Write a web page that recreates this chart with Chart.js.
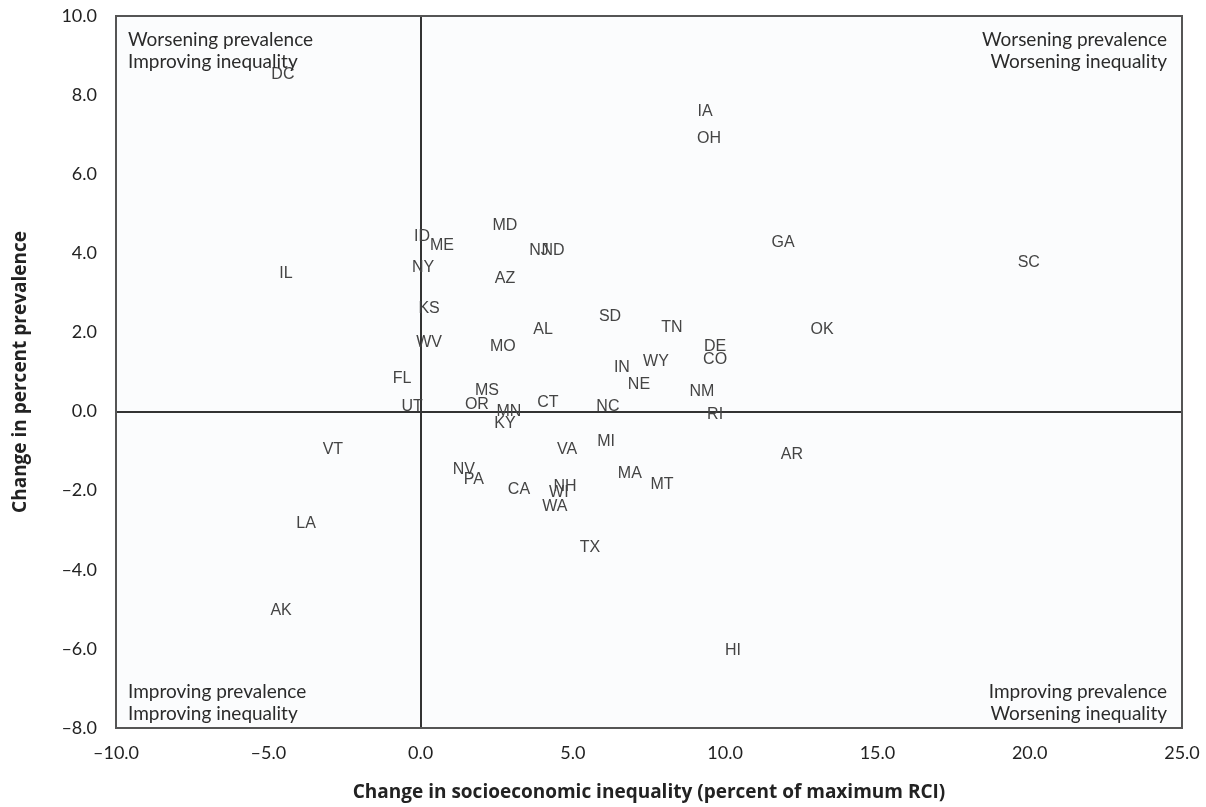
<!DOCTYPE html>
<html>
<head>
<meta charset="utf-8">
<title>Change in prevalence vs change in inequality</title>
<script src="https://cdn.jsdelivr.net/npm/chart.js@4.4.1/dist/chart.umd.min.js"></script>
<style>
    html, body { margin: 0; padding: 0; background: #ffffff; }
</style>
</head>
<body>
<canvas id="scatterChart" width="1206" height="807"></canvas>
<script>
"use strict";

// state codes, change in inequality (x), change in prevalence (y)
const stateCodes = ["AK", "AL", "AR", "AZ", "CA", "CO", "CT", "DC", "DE", "FL", "GA", "HI", "IA",
    "ID", "IL", "IN", "KS", "KY", "LA", "MA", "MD", "ME", "MI", "MN", "MO", "MS", "MT", "NC", "ND",
    "NE", "NH", "NJ", "NM", "NV", "NY", "OH", "OK", "OR", "PA", "RI", "SC", "SD", "TN", "TX", "UT",
    "VA", "VT", "WA", "WI", "WV", "WY"];

const ineqChange = [-4.58, 4.02, 12.19, 2.77, 3.23, 9.67, 4.18, -4.52, 9.67, -0.61, 11.90, 10.26, 9.34,
    0.05, -4.42, 6.61, 0.28, 2.77, -3.76, 6.87, 2.77, 0.70, 6.09, 2.90, 2.70, 2.18, 7.93, 6.15, 4.35,
    7.17, 4.74, 3.89, 9.24, 1.42, 0.08, 9.47, 13.18, 1.85, 1.75, 9.67, 19.97, 6.22, 8.25, 5.56, -0.28,
    4.81, -2.88, 4.41, 4.54, 0.28, 7.73];

const prevChange = [-5.03, 2.08, -1.09, 3.35, -1.98, 1.32, 0.23, 8.53, 1.65, 0.84, 4.26, -6.04, 7.59,
    4.42, 3.50, 1.12, 2.61, -0.30, -2.84, -1.57, 4.70, 4.19, -0.76, 0.00, 1.65, 0.53, -1.85, 0.13, 4.06,
    0.69, -1.90, 4.06, 0.51, -1.47, 3.65, 6.90, 2.06, 0.18, -1.73, -0.08, 3.76, 2.39, 2.11, -3.43, 0.13,
    -0.96, -0.97, -2.41, -2.06, 1.75, 1.27];

const xTitle = "Change in socioeconomic inequality (percent of maximum RCI)";
const yTitle = "Change in percent prevalence";

const quadrantTopLeft = ["Worsening prevalence", "Improving inequality"];
const quadrantTopRight = ["Worsening prevalence", "Worsening inequality"];
const quadrantBottomLeft = ["Improving prevalence", "Improving inequality"];
const quadrantBottomRight = ["Improving prevalence", "Worsening inequality"];

const points = stateCodes.map((code, i) => ({ x: ineqChange[i], y: prevChange[i], code: code }));

function formatTick(value) {
    let text = Number(value).toFixed(1);
    return text.replace("-", "\u2013");
}

// plot background, frame, quadrant notes and the state labels
const labelPlugin = {
    id: "stateLabels",
    beforeDraw(chart) {
        const { ctx, chartArea } = chart;
        ctx.save();
        ctx.fillStyle = "#fbfcfd";
        ctx.fillRect(chartArea.left, chartArea.top, chartArea.right - chartArea.left, chartArea.bottom - chartArea.top);
        ctx.restore();
    },
    afterDatasetsDraw(chart) {
        const { ctx, chartArea } = chart;
        const xScale = chart.scales.x;
        const yScale = chart.scales.y;

        ctx.save();
        ctx.font = "16px 'Liberation Sans', Arial, sans-serif";
        ctx.fillStyle = "#444444";
        ctx.textAlign = "center";
        ctx.textBaseline = "middle";
        points.forEach((p) => {
            ctx.fillText(p.code, xScale.getPixelForValue(p.x), yScale.getPixelForValue(p.y));
        });

        ctx.font = "19px Lato, sans-serif";
        ctx.fillStyle = "#2b2b2b";
        const lineGap = 22;

        ctx.textAlign = "left";
        quadrantTopLeft.forEach((line, i) => ctx.fillText(line, chartArea.left + 12, chartArea.top + 24 + i * lineGap));
        quadrantBottomLeft.forEach((line, i) => ctx.fillText(line, chartArea.left + 12, chartArea.bottom - 36 + i * lineGap));

        ctx.textAlign = "right";
        quadrantTopRight.forEach((line, i) => ctx.fillText(line, chartArea.right - 15, chartArea.top + 24 + i * lineGap));
        quadrantBottomRight.forEach((line, i) => ctx.fillText(line, chartArea.right - 15, chartArea.bottom - 36 + i * lineGap));

        ctx.strokeStyle = "#555555";
        ctx.lineWidth = 2;
        ctx.strokeRect(chartArea.left, chartArea.top, chartArea.right - chartArea.left, chartArea.bottom - chartArea.top);
        ctx.restore();
    }
};

function zeroLineColor(context) {
    return context.tick && context.tick.value === 0 ? "#333333" : "rgba(0,0,0,0)";
}

const ctx = document.getElementById("scatterChart");

new Chart(ctx, {
    type: "scatter",
    data: {
        datasets: [{
            label: "States",
            data: points,
            pointRadius: 0,
            pointHoverRadius: 0
        }]
    },
    plugins: [labelPlugin],
    options: {
        responsive: false,
        animation: false,
        events: [],
        layout: {
            padding: { left: 0, top: 16, right: 24, bottom: 0 }
        },
        plugins: {
            legend: { display: false },
            tooltip: { enabled: false }
        },
        scales: {
            x: {
                type: "linear",
                min: -10,
                max: 25,
                afterFit: (scale) => {
                    scale.height = 79;
                    scale.paddingLeft = 0;
                    scale.paddingRight = 0;
                },
                border: { display: false },
                grid: {
                    drawTicks: false,
                    color: zeroLineColor,
                    lineWidth: 2
                },
                ticks: {
                    stepSize: 5,
                    padding: 14,
                    color: "#222222",
                    font: { family: "Lato", size: 18 },
                    callback: (value) => formatTick(value)
                },
                title: {
                    display: true,
                    text: xTitle,
                    color: "#222222",
                    font: { family: "'Open Sans'", size: 19, weight: "bold" },
                    padding: { top: 0, bottom: 3 }
                }
            },
            y: {
                type: "linear",
                min: -8,
                max: 10,
                afterFit: (scale) => {
                    scale.width = 116;
                    scale.paddingTop = 0;
                    scale.paddingBottom = 0;
                },
                border: { display: false },
                grid: {
                    drawTicks: false,
                    color: zeroLineColor,
                    lineWidth: 2
                },
                ticks: {
                    stepSize: 2,
                    padding: 19,
                    color: "#222222",
                    font: { family: "Lato", size: 18 },
                    callback: (value) => formatTick(value)
                },
                title: {
                    display: true,
                    text: yTitle,
                    color: "#222222",
                    font: { family: "'Open Sans'", size: 19, weight: "bold" },
                    padding: { top: 9, bottom: 0 }
                }
            }
        }
    }
});
</script>
</body>
</html>
